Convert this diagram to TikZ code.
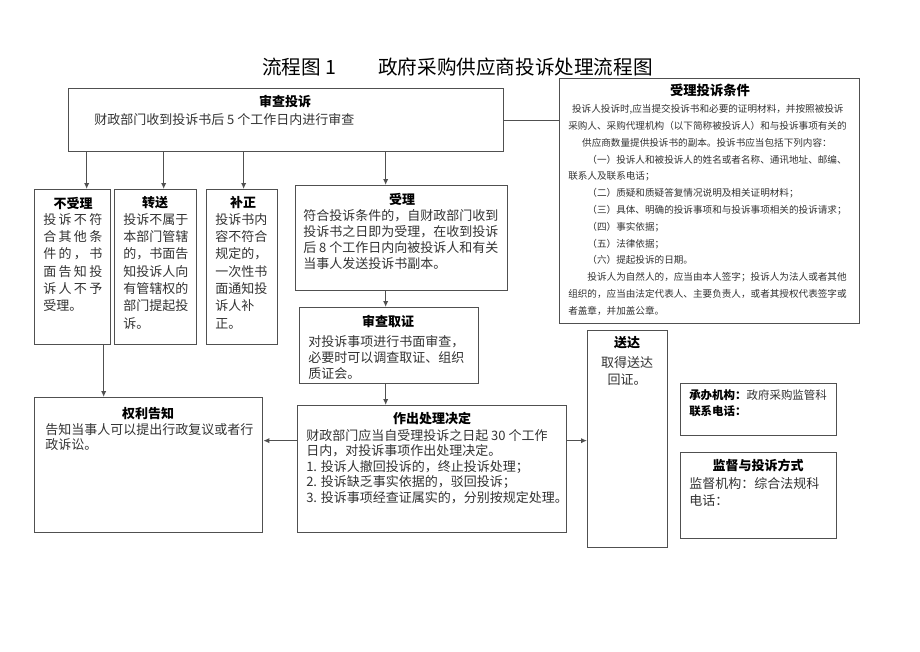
\documentclass[tikz,border=0pt]{standalone}
\usepackage{fontspec}
\setmainfont{Noto Sans CJK SC}
\usetikzlibrary{arrows.meta}
\definecolor{linegray}{RGB}{80,80,80}
\definecolor{textgray}{RGB}{50,50,50}
\newcommand\spreadline[1]{\makebox[44.25pt][s]{#1}}
\newcommand\boxlines[2][l]{\begin{tabular}[t]{@{}#1@{}}#2\end{tabular}}

\begin{document}
\begin{tikzpicture}[
      x=0.75pt, y=-0.75pt,
      title/.style={font=\fontsize{14.7pt}{16pt}\selectfont, text=black, inner sep=0pt, anchor=base west},
      box/.style={rectangle, draw=linegray, line width=1pt, anchor=north west, inner sep=0pt},
      head/.style={font=\fontsize{9.75pt}{12pt}\selectfont\bfseries, text=black, inner sep=0pt},
      body/.style={font=\fontsize{9.75pt}{#1}\selectfont, text=textgray, anchor=base west, inner sep=0pt},
      body/.default=12pt,
      line/.style={draw=linegray, line width=1pt, -{Latex[length=4.5pt, width=4pt]}},
      link/.style={draw=linegray, line width=1pt}
    ]
    \useasboundingbox (0,0) rectangle (920,651);
    % Title
    \node [title] (title-no) at (262,74.5) {流程图 1};
    \node [title] (title-name) at (378,74.5) {政府采购供应商投诉处理流程图};
    % Boxes
    \node [box, minimum width=326.25pt, minimum height=47.25pt] (review) at (68,88) {};
    \node [box, minimum width=225pt, minimum height=183.75pt] (cond) at (559,78) {};
    \node [box, minimum width=57pt, minimum height=116.25pt] (reject) at (34,189) {};
    \node [box, minimum width=61.5pt, minimum height=116.25pt] (transfer) at (114,189) {};
    \node [box, minimum width=53.25pt, minimum height=116.25pt] (amend) at (206,189) {};
    \node [box, minimum width=159pt, minimum height=78.75pt] (accept) at (295,185) {};
    \node [box, minimum width=134.25pt, minimum height=57pt] (invest) at (299,307) {};
    \node [box, minimum width=201.75pt, minimum height=95.25pt] (decide) at (297,405) {};
    \node [box, minimum width=171pt, minimum height=101.25pt] (notice) at (34,397) {};
    \node [box, minimum width=60pt, minimum height=162.75pt] (deliver) at (587,330) {};
    \node [box, minimum width=117pt, minimum height=39pt] (office) at (680,383) {};
    \node [box, minimum width=117pt, minimum height=64.5pt] (supervise) at (680,452) {};
    % Texts
    \node [head] (review-h) at (285,101) {审查投诉};
    \node [body] (review-b) at (94,124) {财政部门收到投诉书后 5 个工作日内进行审查};
    \node [head, font=\fontsize{10pt}{12pt}\selectfont\bfseries] (cond-h) at (710,90) {受理投诉条件};
    \node [body=12.6pt, font=\fontsize{7.2pt}{12.6pt}\selectfont] (cond-b) at (568,112.6) {\boxlines{%
      \hspace*{0.4em}投诉人投诉时,应当提交投诉书和必要的证明材料，并按照被投诉\\
      采购人、采购代理机构（以下简称被投诉人）和与投诉事项有关的\\
      \hspace*{1.45em}供应商数量提供投诉书的副本。投诉书应当包括下列内容：\\
      \hspace*{2em}（一）投诉人和被投诉人的姓名或者名称、通讯地址、邮编、\\
      联系人及联系电话；\\
      \hspace*{2em}（二）质疑和质疑答复情况说明及相关证明材料；\\
      \hspace*{2em}（三）具体、明确的投诉事项和与投诉事项相关的投诉请求；\\
      \hspace*{2em}（四）事实依据；\\
      \hspace*{2em}（五）法律依据；\\
      \hspace*{2em}（六）提起投诉的日期。\\
      \hspace*{2em}投诉人为自然人的，应当由本人签字；投诉人为法人或者其他\\
      组织的，应当由法定代表人、主要负责人，或者其授权代表签字或\\
      者盖章，并加盖公章。}};
    \node [head] (reject-h) at (73,203) {不受理};
    \node [body=13pt] (reject-b) at (43,224) {\boxlines{%
      \spreadline{投\hfill 诉\hfill 不\hfill 符}\\
      \spreadline{合\hfill 其\hfill 他\hfill 条}\\
      \spreadline{件\hfill 的\hfill ，\hfill 书}\\
      \spreadline{面\hfill 告\hfill 知\hfill 投}\\
      \spreadline{诉\hfill 人\hfill 不\hfill 予}\\
      受理。}};
    \node [head] (transfer-h) at (155,203) {转送};
    \node [body=13pt] (transfer-b) at (123,224) {\boxlines{投诉不属于\\本部门管辖\\的，书面告\\知投诉人向\\有管辖权的\\部门提起投\\诉。}};
    \node [head] (amend-h) at (243,203) {补正};
    \node [body=13pt] (amend-b) at (215,224) {\boxlines{投诉书内\\容不符合\\规定的，\\一次性书\\面通知投\\诉人补\\正。}};
    \node [head] (accept-h) at (402,199) {受理};
    \node [body] (accept-b) at (303,220) {\boxlines{符合投诉条件的，自财政部门收到\\投诉书之日即为受理，在收到投诉\\后 8 个工作日内向被投诉人和有关\\当事人发送投诉书副本。}};
    \node [head] (invest-h) at (388,321) {审查取证};
    \node [body] (invest-b) at (308,346) {\boxlines{对投诉事项进行书面审查，\\必要时可以调查取证、组织\\质证会。}};
    \node [head] (decide-h) at (432,419) {作出处理决定};
    \node [body=11.6pt] (decide-b) at (306,440) {\boxlines{财政部门应当自受理投诉之日起 30 个工作\\日内，对投诉事项作出处理决定。\\1. 投诉人撤回投诉的，终止投诉处理；\\2. 投诉缺乏事实依据的，驳回投诉；\\3. 投诉事项经查证属实的，分别按规定处理。}};
    \node [head] (notice-h) at (148,414) {权利告知};
    \node [body=11.5pt] (notice-b) at (45,434) {\boxlines{告知当事人可以提出行政复议或者行\\政诉讼。}};
    \node [head] (deliver-h) at (627,343) {送达};
    \node [body=12.75pt, anchor=base] (deliver-b) at (627,367) {\boxlines[c]{取得送达\\回证。}};
    \node [body=12pt, font=\fontsize{8.6pt}{12pt}\selectfont] (office-b) at (689,399.4) {\boxlines{\textbf{\color{black}承办机构：}政府采购监管科\\\textbf{\color{black}联系电话：}}};
    \node [head] (supervise-h) at (758,465) {监督与投诉方式};
    \node [body=12.75pt] (supervise-b) at (689,488) {\boxlines{监督机构：综合法规科\\电话：}};
    % Lines
    \coordinate (reject-in) at ([xshift=10.5pt]reject.north);
    \coordinate (transfer-in) at ([xshift=6pt]transfer.north);
    \coordinate (amend-in) at ([xshift=1.1pt]amend.north);
    \coordinate (accept-in) at ([xshift=-12pt]accept.north);
    \coordinate (accept-out) at ([xshift=-12pt]accept.south);
    \coordinate (invest-out) at ([xshift=-2.6pt]invest.south);
    \coordinate (reject-out) at ([xshift=23.25pt]reject.south);
    \coordinate (decide-west) at ([yshift=21.4pt]decide.west);
    \coordinate (decide-east) at ([yshift=21.4pt]decide.east);
    \path [link] (review.east) -- (review.east -| cond.west);
    \path [line] (reject-in |- review.south) -- (reject-in);
    \path [line] (transfer-in |- review.south) -- (transfer-in);
    \path [line] (amend-in |- review.south) -- (amend-in);
    \path [line] (accept-in |- review.south) -- (accept-in);
    \path [line] (accept-out) -- (accept-out |- invest.north);
    \path [line] (invest-out) -- (invest-out |- decide.north);
    \path [line] (reject-out) -- (reject-out |- notice.north);
    \path [line] (decide-west) -- (decide-west -| notice.east);
    \path [line] (decide-east) -- (decide-east -| deliver.west);
  \end{tikzpicture}
\end{document}
